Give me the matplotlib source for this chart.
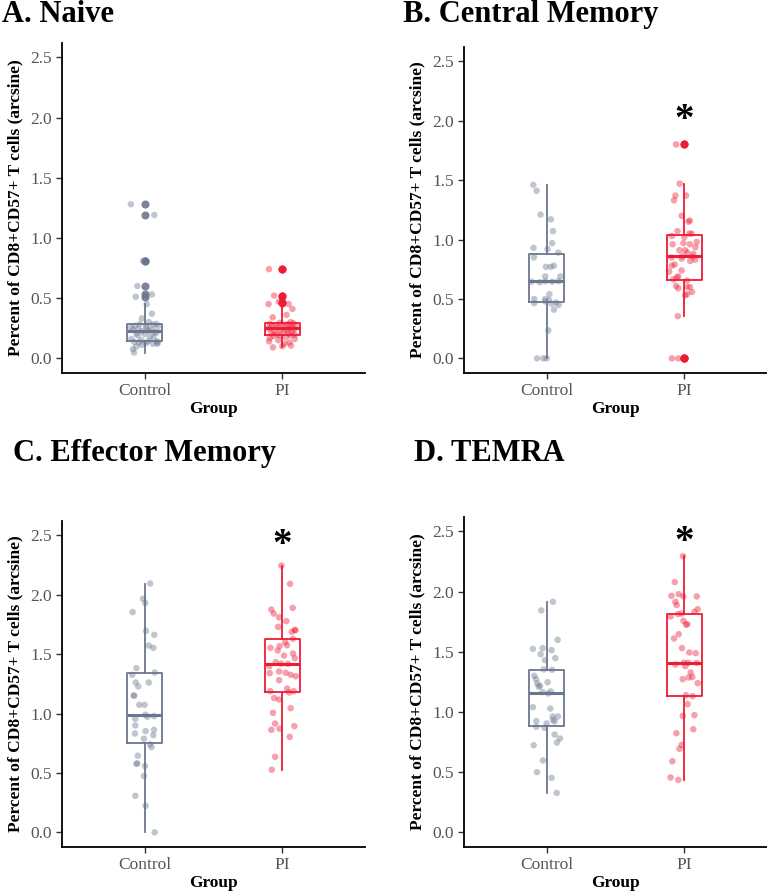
import matplotlib
matplotlib.use("Agg")
from matplotlib import pyplot as plt

plt.rcParams['font.family'] = ['Liberation Serif', 'DejaVu Serif']

groups = ['Control', 'PI']
titles = ['A. Naive', 'B. Central Memory', 'C. Effector Memory', 'D. TEMRA']
ylab = 'Percent of CD8+CD57+ T cells (arcsine)'
yticks = [0.0, 0.5, 1.0, 1.5, 2.0, 2.5]
stars = [None, 2.0, 2.41, 2.41]   # "*" above PI

# values (arcsine-transformed percents)
naive_ctrl = [1.28, 1.19, 0.81, 0.81, 0.60, 0.53, 0.51, 0.45, 0.37,
              0.33, 0.30, 0.285, 0.283, 0.28, 0.27, 0.265, 0.26, 0.255, 0.25, 0.245, 0.24, 0.235,
              0.228, 0.225, 0.215, 0.21, 0.205, 0.20, 0.19, 0.18, 0.17, 0.16, 0.15,
              0.14, 0.14, 0.135, 0.13, 0.13, 0.125, 0.12, 0.12, 0.11, 0.097, 0.075, 0.047]
naive_pi = [0.74, 0.74, 0.52, 0.52, 0.47, 0.46, 0.45, 0.45, 0.41, 0.36, 0.34, 0.30,
            0.293, 0.29, 0.286, 0.283, 0.28, 0.275, 0.272, 0.27, 0.265, 0.26, 0.255, 0.252,
            0.248, 0.24, 0.235, 0.23, 0.225, 0.22, 0.215, 0.21, 0.205, 0.20, 0.195, 0.19,
            0.19, 0.185, 0.175, 0.17, 0.16, 0.15, 0.14, 0.13, 0.12, 0.105, 0.10, 0.09]
cm_ctrl = [1.46, 1.41, 1.21, 1.17, 1.07, 0.97, 0.93, 0.92, 0.89, 0.85,
           0.78, 0.77, 0.77, 0.69, 0.69, 0.65, 0.65, 0.645, 0.645, 0.64,
           0.54, 0.50, 0.50, 0.49, 0.48, 0.47, 0.465, 0.46, 0.45, 0.41,
           0.235, 0.0, 0.0, 0.0]
cm_pi = [1.80, 1.80, 1.47, 1.37, 1.37, 1.33, 1.20, 1.16, 1.15, 1.07,
         1.05, 1.05, 1.03, 1.02, 0.98, 0.97, 0.96, 0.96, 0.935, 0.91,
         0.91, 0.89, 0.88, 0.86, 0.857, 0.85, 0.84, 0.83, 0.82, 0.79,
         0.78, 0.74, 0.73, 0.69, 0.68, 0.665, 0.655, 0.61, 0.60, 0.60,
         0.59, 0.56, 0.54, 0.53, 0.355, 0.0, 0.0, 0.0]
em_ctrl = [2.094, 1.965, 1.93, 1.853, 1.696, 1.662, 1.572, 1.553, 1.382, 1.345,
           1.326, 1.261, 1.261, 1.228, 1.152, 1.15, 1.073, 1.073, 0.99, 0.978,
           0.973, 0.956, 0.90, 0.863, 0.852, 0.832, 0.818, 0.788, 0.74, 0.717,
           0.645, 0.58, 0.578, 0.558, 0.474, 0.308, 0.224, 0.0]
em_pi = [2.245, 2.091, 1.889, 1.875, 1.841, 1.81, 1.777, 1.729, 1.704, 1.70,
         1.687, 1.628, 1.60, 1.575, 1.567, 1.553, 1.53, 1.505, 1.488, 1.466,
         1.432, 1.42, 1.418, 1.399, 1.354, 1.343, 1.34, 1.326, 1.314, 1.281,
         1.21, 1.188, 1.188, 1.177, 1.13, 1.118, 1.045, 1.006, 0.916, 0.894,
         0.872, 0.863, 0.804, 0.636, 0.527]
temra_ctrl = [1.915, 1.843, 1.599, 1.53, 1.524, 1.513, 1.48, 1.447, 1.43, 1.353,
              1.35, 1.30, 1.272, 1.247, 1.236, 1.217, 1.21, 1.17, 1.165, 1.153,
              1.039, 1.028, 0.962, 0.962, 0.934, 0.923, 0.92, 0.904, 0.876, 0.868,
              0.812, 0.779, 0.746, 0.723, 0.596, 0.499, 0.452, 0.327]
temra_pi = [2.295, 2.079, 1.979, 1.965, 1.96, 1.96, 1.915, 1.888, 1.854, 1.832,
            1.818, 1.813, 1.793, 1.757, 1.73, 1.724, 1.646, 1.61, 1.53, 1.494,
            1.488, 1.41, 1.408, 1.408, 1.394, 1.38, 1.328, 1.29, 1.286, 1.272,
            1.239, 1.139, 1.131, 1.064, 0.973, 0.967, 0.856, 0.823, 0.726, 0.693,
            0.59, 0.455, 0.435]

# horizontal jitter of each point, as seen in the picture
jit_naive_ctrl = [-0.10, 0.07, -0.012, 0.01, -0.053, 0.053, -0.065, 0.015, 0.053,
                  -0.02, 0.03, 0.085, -0.036, 0.06, -0.07, 0.012, 0.095, -0.1, 0.012, -0.045, 0.05, -0.085,
                  0.03, -0.02, 0.07, 0.085, -0.06, 0.0, -0.05, 0.04, 0.065, -0.097, -0.025,
                  0.025, 0.09, -0.075, 0.097, -0.04, 0.01, 0.06, 0.09, -0.02, -0.06, -0.085, -0.077]
jit_naive_pi = [-0.097, 0.0, -0.06, 0.003, -0.025, 0.0, -0.1, 0.045, 0.073, 0.03, -0.07, 0.06,
                -0.02, 0.08, -0.09, 0.04, 0.0, -0.05, 0.095, -0.075, 0.02, 0.065, -0.035, 0.05,
                -0.1, 0.085, -0.015, 0.03, -0.06, 0.07, 0.01, -0.08, 0.045, -0.04, 0.09, -0.02,
                0.06, -0.065, 0.025, -0.09, 0.09, -0.03, -0.097, 0.05, 0.015, 0.063, 0.0, -0.068]
jit_cm_ctrl = [-0.097, -0.073, -0.044, 0.031, 0.046, 0.04, -0.095, 0.007, 0.085, -0.092,
               0.053, -0.005, 0.03, -0.01, 0.1, 0.085, -0.01, -0.11, 0.04, -0.05,
               0.02, -0.09, -0.01, 0.017, -0.01, 0.07, -0.09, 0.036, 0.087, 0.053,
               0.012, -0.07, -0.024, 0.0]
jit_cm_pi = [-0.06, 0.003, -0.034, -0.065, 0.012, -0.075, -0.02, 0.04, 0.03, -0.05,
             0.036, 0.053, -0.09, 0.0, 0.09, -0.007, 0.04, -0.085, 0.08, -0.036,
             0.005, 0.022, 0.065, -0.015, 0.06, -0.092, -0.02, 0.078, 0.042, -0.07,
             -0.09, -0.02, -0.11, -0.044, -0.055, -0.08, 0.02, -0.06, 0.02, 0.04,
             -0.044, 0.055, 0.02, 0.005, -0.048, -0.09, -0.044, 0.002]
jit_em_ctrl = [0.04, -0.012, 0.005, -0.087, 0.01, 0.07, 0.03, 0.063, -0.06, 0.073,
               -0.09, -0.065, 0.03, -0.046, -0.08, -0.075, -0.039, 0.0, 0.005, 0.068,
               0.02, -0.068, -0.068, 0.068, 0.007, -0.07, 0.063, -0.005, 0.04, 0.05,
               -0.05, -0.053, -0.06, 0.002, -0.005, -0.068, 0.007, 0.073]
jit_em_pi = [-0.007, 0.056, 0.075, -0.08, -0.063, -0.024, 0.029, -0.031, 0.09, 0.095,
             0.068, 0.077, 0.02, 0.034, -0.02, -0.087, -0.034, 0.077, 0.012, 0.09,
             -0.048, -0.01, 0.041, -0.094, -0.024, 0.024, -0.092, 0.06, 0.097, -0.024,
             0.035, -0.087, 0.082, 0.048, -0.06, -0.024, 0.06, -0.068, -0.053, 0.087,
             -0.02, -0.08, 0.053, -0.053, -0.077]
jit_temra_ctrl = [0.046, -0.039, 0.08, -0.029, -0.1, 0.036, -0.044, 0.063, -0.012, -0.022,
                  0.039, -0.09, -0.077, 0.007, -0.068, -0.048, -0.058, 0.03, -0.03, 0.012,
                  -0.1, 0.027, 0.044, 0.082, 0.046, -0.075, 0.058, 0.0, -0.075, -0.015,
                  0.058, 0.097, 0.075, -0.094, -0.027, -0.07, 0.036, 0.073]
jit_temra_pi = [-0.01, -0.07, -0.041, -0.094, -0.007, 0.09, -0.065, -0.056, 0.097, 0.073,
                -0.02, -0.046, -0.1, -0.007, 0.022, 0.012, -0.041, -0.075, -0.017, 0.036,
                0.082, -0.003, 0.027, 0.09, -0.065, 0.007, 0.046, 0.058, 0.031, -0.012,
                0.097, 0.012, 0.06, 0.024, 0.073, -0.012, 0.065, -0.058, -0.02, -0.036,
                -0.087, -0.1, -0.044]

panels = [(naive_ctrl, naive_pi, jit_naive_ctrl, jit_naive_pi),
          (cm_ctrl, cm_pi, jit_cm_ctrl, jit_cm_pi),
          (em_ctrl, em_pi, jit_em_ctrl, jit_em_pi),
          (temra_ctrl, temra_pi, jit_temra_ctrl, jit_temra_pi)]

colors = ['#6b7790', '#ee1b35']

W, H = 767, 892
fig = plt.figure(figsize=(W/100, H/100), dpi=100)
# axes boxes in pixels: left, top, right, bottom
boxes = [(62, 43, 365, 373), (464, 47, 767, 373), (62, 521, 365, 847), (464, 517, 767, 847)]
title_pos = [(2, 22), (403, 22), (13, 461), (414, 461)]

for i, (ctrl, pi, jc, jp) in enumerate(panels):
    l, t, r, b = boxes[i]
    ax = fig.add_axes([l/W, 1-b/H, (r-l)/W, (b-t)/H])
    for k, (vals, jit) in enumerate([(ctrl, jc), (pi, jp)]):
        c = colors[k]
        ax.boxplot(vals, positions=[k+1], widths=0.25, showcaps=False,
                   boxprops=dict(color=c, linewidth=1.3),
                   whiskerprops=dict(color=c, linewidth=1.3),
                   medianprops=dict(color=c, linewidth=2.2),
                   flierprops=dict(marker='o', markerfacecolor=c, markeredgecolor='none',
                                   markersize=5.8, alpha=0.9),
                   zorder=2)
        ax.scatter([k+1+j for j in jit], vals, s=22, color=c, alpha=0.42,
                   edgecolors='none', zorder=3)
    if stars[i] is not None:
        ax.text(2, stars[i], '*', ha='center', va='center', fontsize=28,
                fontweight='bold', color='black')
    ax.set_xlim(0.4, 2.6)
    ax.set_ylim(-0.123, 2.62)
    ax.set_xticks([1, 2])
    ax.set_xticklabels(groups)
    ax.set_yticks(yticks)
    ax.set_yticklabels(['%.1f' % v for v in yticks])
    ax.tick_params(axis='both', length=4, width=1, color='#333333',
                   labelcolor='#555555', labelsize=12.5, pad=3)
    for s in ['top', 'right']:
        ax.spines[s].set_visible(False)
    for s in ['left', 'bottom']:
        ax.spines[s].set_linewidth(1.3)
        ax.spines[s].set_color('black')
    ax.set_xlabel('Group', fontsize=12.5, fontweight='bold')
    ax.set_ylabel(ylab, fontsize=12.5, fontweight='bold')
    ax.xaxis.set_label_coords(0.5, -0.085)
    ax.yaxis.set_label_coords(-0.128, 0.5)
    tx, ty = title_pos[i]
    fig.text(tx/W, 1-ty/H, titles[i], fontsize=22, fontweight='bold',
             ha='left', va='baseline')

fig.savefig('out.png', dpi=100)
